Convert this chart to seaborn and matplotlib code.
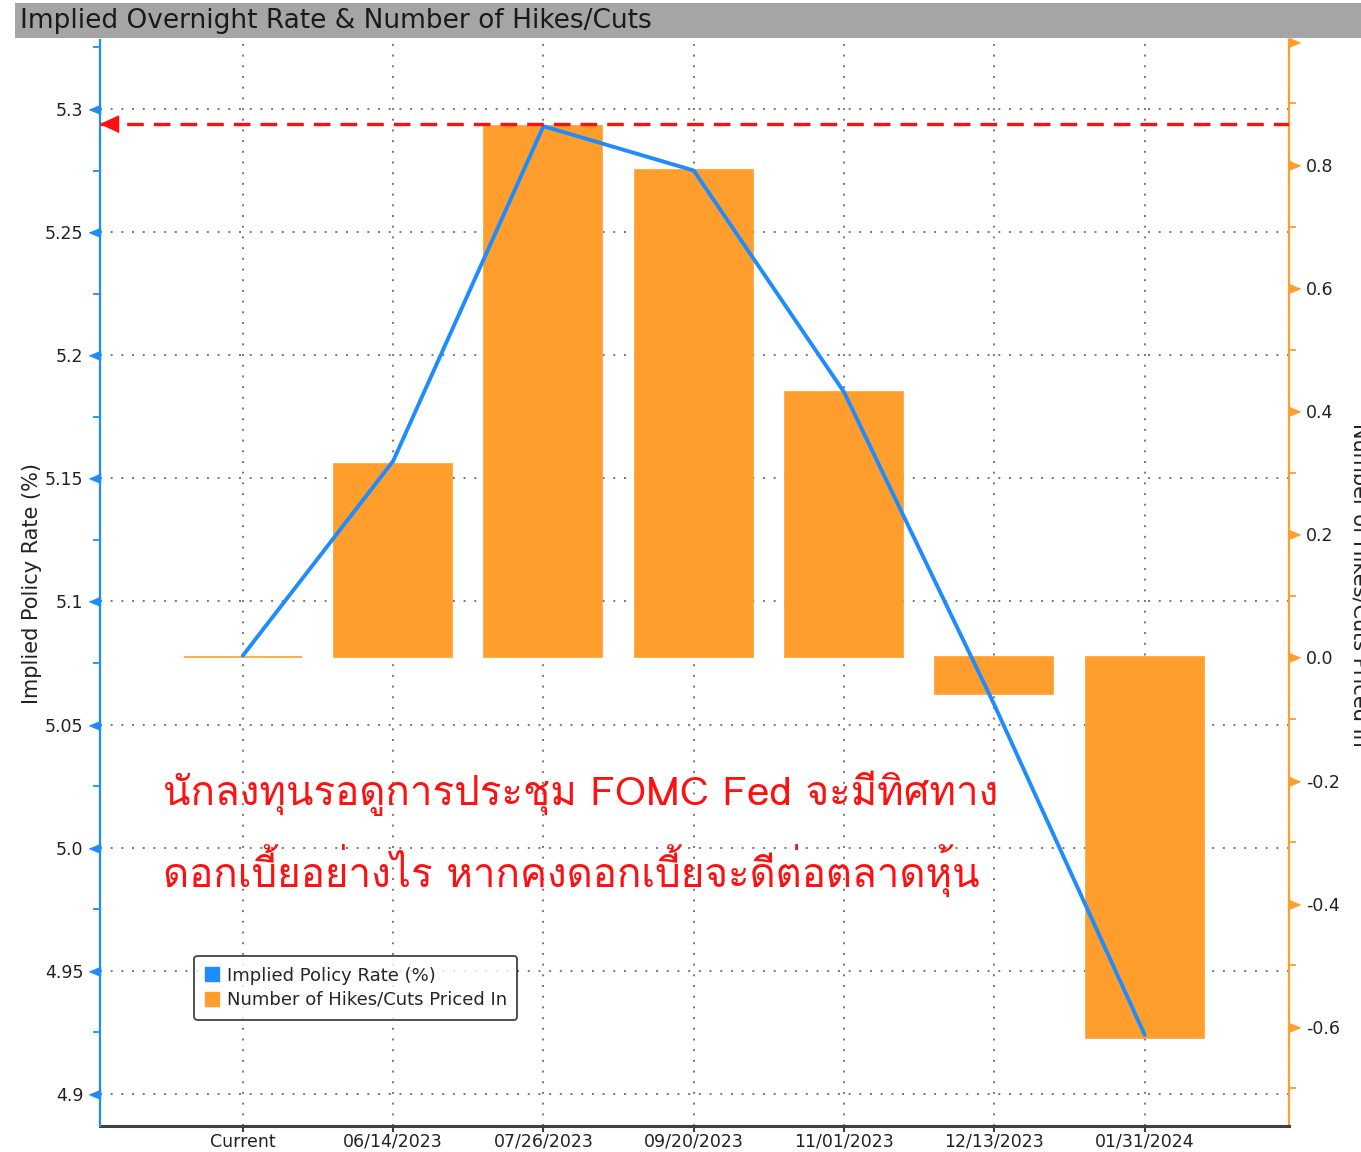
import numpy as np
import pandas as pd
import seaborn as sns
import matplotlib.pyplot as plt
import matplotlib.transforms as mtransforms
from matplotlib import font_manager
from matplotlib.ft2font import FT2Font
from matplotlib.patches import Patch, Rectangle
from matplotlib.ticker import MultipleLocator

dates = ["Current", "06/14/2023", "07/26/2023", "09/20/2023", "11/01/2023", "12/13/2023", "01/31/2024"]
policy_rate = [5.078, 5.157, 5.293, 5.275, 5.185, 5.058, 4.924]
hikes_cuts = [0.0, 0.314, 0.863, 0.792, 0.431, -0.060, -0.618]
peak_rate = 5.294

left_ticks = [4.9, 4.95, 5.0, 5.05, 5.1, 5.15, 5.2, 5.25, 5.3]
left_labels = ["4.9", "4.95", "5.0", "5.05", "5.1", "5.15", "5.2", "5.25", "5.3"]
right_ticks = [-0.6, -0.4, -0.2, 0.0, 0.2, 0.4, 0.6, 0.8, 1.0]
right_labels = ["-0.6", "-0.4", "-0.2", "0.0", "0.2", "0.4", "0.6", "0.8", ""]

thai_lines = ["นักลงทุนรอดูการประชุม FOMC Fed จะมีทิศทาง",
              "ดอกเบี้ยอย่างไร หากคงดอกเบี้ยจะดีต่อตลาดหุ้น"]

BLUE = "#1E8CFF"
ORANGE = "#FF9E2C"
RED = "#FF1010"


def find_thai_font():
    for f in font_manager.fontManager.ttflist:
        try:
            if ord("ก") in FT2Font(f.fname).get_charmap():
                return f.name
        except Exception:
            pass
    return "DejaVu Sans"


sns.set_style("white")
plt.rcParams["font.family"] = ["DejaVu Sans"]
thai_font = find_thai_font()

df = pd.DataFrame({"date": dates, "rate": policy_rate, "hikes": hikes_cuts})

fig = plt.figure(figsize=(13.61, 11.52), dpi=100)
ax_bar = fig.add_axes([100 / 1361, 1 - 1126 / 1152, 1189 / 1361, 1086 / 1152])
ax_line = ax_bar.twinx()

# bars (right scale) underneath
sns.barplot(data=df, x="date", y="hikes", ax=ax_bar, color=ORANGE, saturation=1,
            width=0.785, edgecolor=ORANGE, linewidth=1.2, zorder=2)
# line (left scale) on top
sns.lineplot(data=df, x="date", y="rate", ax=ax_line, sort=False, color=BLUE,
             linewidth=2.8, zorder=3)

ax_bar.set_xlim(-0.95, 6.96)
ax_bar.set_ylim(-0.761, 1.003)
ax_line.set_ylim(4.887, 5.328)

# grids, kept below the bars
ax_bar.set_axisbelow(True)
ax_bar.grid(axis="x", color="#777777", linestyle=(0, (1, 4.5)), linewidth=1.4)
ax_bar.grid(axis="y", visible=False)
ax_line.grid(False)
hgrid = mtransforms.blended_transform_factory(ax_bar.transAxes, ax_line.transData)
for v in left_ticks:
    ax_bar.plot([0, 1], [v, v], transform=hgrid, color="#777777",
                linestyle=(0, (1, 4.5)), linewidth=1.4, zorder=0.5)

# peak line with arrow
ax_line.axhline(peak_rate, color=RED, linestyle=(0, (5, 3)), linewidth=2.4, zorder=4)
arrow_tri = [(0, 0), (1.2, 0.55), (1.2, -0.55)]
ax_line.plot([0.0], [peak_rate], transform=hgrid, marker=arrow_tri, markersize=26,
             color=RED, clip_on=False, zorder=5, linestyle="none")

# axis sides
ax_line.yaxis.tick_left()
ax_line.yaxis.set_label_position("left")
ax_bar.yaxis.tick_right()
ax_bar.yaxis.set_label_position("right")

for sp in ["top", "left", "right"]:
    ax_bar.spines[sp].set_visible(sp == "right")
for sp in ["top", "right", "bottom"]:
    ax_line.spines[sp].set_visible(False)
ax_line.spines["left"].set_visible(True)
ax_line.spines["left"].set_color(BLUE)
ax_line.spines["left"].set_linewidth(1.6)
ax_bar.spines["right"].set_color(ORANGE)
ax_bar.spines["right"].set_linewidth(1.6)
ax_bar.spines["bottom"].set_color("#404040")
ax_bar.spines["bottom"].set_linewidth(2.2)

# left ticks
ax_line.set_yticks(left_ticks, left_labels)
ax_line.yaxis.set_minor_locator(MultipleLocator(0.025))
ax_line.tick_params(axis="y", which="major", length=0, pad=12, labelsize=12.5,
                    labelcolor="#222222")
ax_line.tick_params(axis="y", which="minor", left=True, length=5, width=1.3,
                    color=BLUE, direction="out")
left_tri = [(0, 0.5), (0, -0.5), (-1.2, 0)]
ax_line.plot([0.0] * len(left_ticks), left_ticks, transform=hgrid, marker=left_tri,
             markersize=16, color=BLUE, clip_on=False, linestyle="none", zorder=6)

# right ticks
rgrid = mtransforms.blended_transform_factory(ax_bar.transAxes, ax_bar.transData)
ax_bar.set_yticks(right_ticks, right_labels)
ax_bar.yaxis.set_minor_locator(MultipleLocator(0.1))
ax_bar.tick_params(axis="y", which="major", length=0, pad=12, labelsize=12.5,
                   labelcolor="#222222")
ax_bar.tick_params(axis="y", which="minor", right=True, left=False, length=5,
                   width=1.3, color=ORANGE, direction="out")
right_tri = [(0, 0.5), (0, -0.5), (1.2, 0)]
ax_bar.plot([1.0] * len(right_ticks), right_ticks, transform=rgrid, marker=right_tri,
            markersize=16, color=ORANGE, clip_on=False, linestyle="none", zorder=6)

# x axis
ax_bar.tick_params(axis="x", bottom=True, length=4, width=1.5, color="#404040",
                   labelsize=12.5, labelcolor="#222222", pad=1)
ax_line.tick_params(axis="x", bottom=False)
ax_bar.set_xlabel("")
ax_line.set_xlabel("")
ax_bar.set_ylabel("")
ax_line.set_ylabel("Implied Policy Rate (%)", fontsize=15, color="#222222", labelpad=2)

# right axis title, partly past the picture edge as in the source
fig.text(1349 / 1361, 1 - 585 / 1152, "Number of Hikes/Cuts Priced In", rotation=270,
         fontsize=15, color="#222222", ha="left", va="center")

# legend
handles = [Patch(facecolor=BLUE, edgecolor=BLUE), Patch(facecolor=ORANGE, edgecolor=ORANGE)]
leg = ax_line.legend(handles, ["Implied Policy Rate (%)", "Number of Hikes/Cuts Priced In"],
                     loc="upper left", bbox_to_anchor=(0.0715, 0.165), fontsize=13,
                     handlelength=0.8, handleheight=0.8, handletextpad=0.4,
                     labelspacing=0.35, borderpad=0.6, frameon=True, fancybox=True)
leg.get_frame().set_edgecolor("#222222")
leg.get_frame().set_linewidth(1.4)
leg.set_zorder(10)

# title bar
fig.patches.append(Rectangle((15 / 1361, 1 - 38 / 1152), 1 - 15 / 1361, 35 / 1152,
                             transform=fig.transFigure, facecolor="#A5A5A5",
                             edgecolor="none", zorder=0))
fig.text(20 / 1361, 1 - 21 / 1152, "Implied Overnight Rate & Number of Hikes/Cuts",
         fontsize=19, color="#1A1A1A", ha="left", va="center")

# Thai annotation
for i, line in enumerate(thai_lines):
    fig.text(163 / 1361, 1 - (793 + 77 * i) / 1152, line, fontsize=29, color=RED,
             ha="left", va="center", family=[thai_font, "DejaVu Sans"])

fig.savefig("out.png", dpi=100)
